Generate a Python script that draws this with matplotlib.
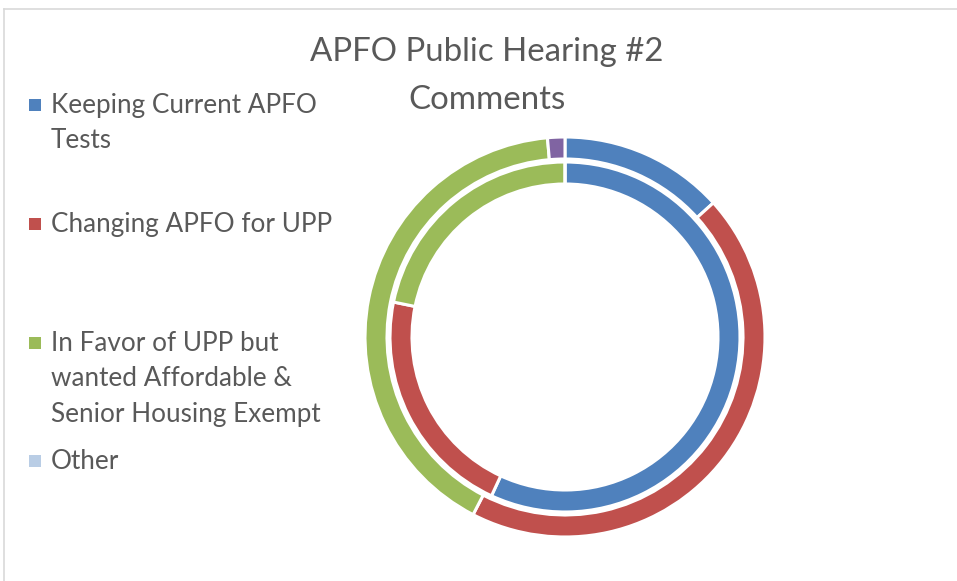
import matplotlib
matplotlib.use("Agg")
import matplotlib.pyplot as plt
from matplotlib.patches import Rectangle

categories = ["Keeping Current APFO\nTests", "Changing APFO for UPP",
              "In Favor of UPP but\nwanted Affordable &\nSenior Housing Exempt", "Other"]
inner_values = [56.9, 21.3, 21.8, 0.0]
outer_values = [13.3, 44.3, 41.0, 1.4]
slice_colors = ["#4F81BD", "#C0504D", "#9BBB59", "#8064A2"]
legend_colors = ["#4F81BD", "#C0504D", "#9BBB59", "#B9CDE5"]
title = "APFO Public Hearing #2\nComments"

W, H = 957, 581
fig = plt.figure(figsize=(W / 100, H / 100), dpi=100)
fig.patch.set_facecolor("white")

# chart border (top and left visible)
fig.add_artist(plt.Line2D([3.5 / W, 1], [1 - 8.5 / H, 1 - 8.5 / H], transform=fig.transFigure,
                          color="#D9D9D9", lw=1.2))
fig.add_artist(plt.Line2D([3.5 / W, 3.5 / W], [0, 1 - 8.5 / H], transform=fig.transFigure,
                          color="#D9D9D9", lw=1.2))

cx, cy, R = 565, 337, 200
ax = fig.add_axes([(cx - R) / W, (H - cy - R) / H, 2 * R / W, 2 * R / H])

ax.pie(outer_values, radius=1.0, colors=slice_colors, startangle=90, counterclock=False,
       wedgeprops=dict(width=0.11, edgecolor="white", linewidth=2.2))
ax.pie(inner_values, radius=0.875, colors=slice_colors, startangle=90, counterclock=False,
       wedgeprops=dict(width=0.11, edgecolor="white", linewidth=2.2))
ax.set_xlim(-1, 1)
ax.set_ylim(-1, 1)
ax.set_aspect("equal")
ax.axis("off")

font = "Lato"
fig.text(487 / W, 1 - 76 / H, title, ha="center", va="center", fontsize=23.8,
         color="#595959", family=font, linespacing=1.76)

# legend
entries_y = [105, 224, 343, 461]
for lab, col, y in zip(categories, legend_colors, entries_y):
    fig.add_artist(Rectangle((29 / W, 1 - (y + 6) / H), 12 / W, 12 / H,
                             transform=fig.transFigure, facecolor=col, edgecolor="none"))
    fig.text(51 / W, 1 - (y - 12) / H, lab, ha="left", va="top", fontsize=18.8,
             color="#595959", family=font, linespacing=1.52)

fig.savefig("out.png", dpi=100, facecolor="white")
